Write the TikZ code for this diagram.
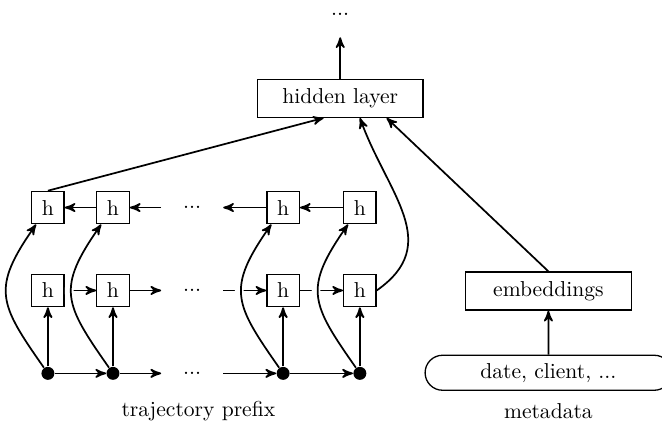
\documentclass[tikz,border=0pt]{standalone}
\usepackage{tikz}
\usetikzlibrary{arrows,shapes,positioning}
\tikzset{
    unit/.style={
           rectangle,
           draw=black, semithick,
           minimum size=15pt,
           inner sep=0pt,
           },
    layer/.style={
           rectangle,
           draw=black, semithick,
           minimum width=2.7cm,
           minimum height=0.62cm,
           },
    feat/.style={
           circle,
           fill=black,
           inner sep=0pt,
           minimum size=6pt,
           },
    ellip/.style={
           inner sep=10pt,
           },
    link/.style={
           ->,
           thick,},
    over/.style={
           link,
           preaction={-, draw=white, line width=4pt, shorten <=6pt, shorten >=6pt},}
}

\begin{document}
\begin{tikzpicture}[->,>=stealth']
\useasboundingbox (0,0) rectangle (10.78,6.94);
% TRAJECTORY PREFIX
% Position of input features (x1 ... x4)
\node[feat] (x1) at (0.78,0.86) {};
\node[feat, right of = x1, node distance = 1.06cm] (x2) {};
\node[ellip, right of = x2, node distance = 1.29cm] (xdots) {...};
\node[feat, right of = xdots, node distance = 1.48cm] (x3) {};
\node[feat, right of = x3, node distance = 1.25cm] (x4) {};
% Position of forward units (f1 ... f4)
\node[unit, above of = x1, node distance = 1.35cm] (f1) {h};
\node[unit, above of = x2, node distance = 1.35cm] (f2) {h};
\node[ellip, above of = xdots, node distance = 1.35cm] (fdots) {...};
\node[unit, above of = x3, node distance = 1.35cm] (f3) {h};
\node[unit, above of = x4, node distance = 1.35cm] (f4) {h};
% Position of backward units (b1 ... b4)
\node[unit, above of = f1, node distance = 1.35cm] (b1) {h};
\node[unit, above of = f2, node distance = 1.35cm] (b2) {h};
\node[ellip, above of = fdots, node distance = 1.35cm] (bdots) {...};
\node[unit, above of = f3, node distance = 1.35cm] (b3) {h};
\node[unit, above of = f4, node distance = 1.35cm] (b4) {h};
\node (trajlabel) at (3.23,0.25) {trajectory prefix};
% HIDDEN LAYER
\node[layer] (hidden) at (5.54,5.34) {hidden layer};
\node[ellip, above of = hidden, node distance = 1.37cm] (out) {...};
% METADATA
\node[layer] (emb) at (8.93,2.20) {embeddings};
\node[rounded rectangle,
draw=black, semithick,
minimum width=4.25cm,
minimum height=0.57cm,
below of = emb,
node distance = 1.33cm] (date) {date, client, ...};
\node[below of = date, node distance = 0.62cm] (metalabel) {metadata};
% Draw lines on graph
\path (f1) edge[link] (f2);
\path (f2) edge[link] (fdots);
\path (fdots) edge[link] (f3);
\path (f3) edge[link] (f4);
\path (x1) edge[over, out=125, in=-125, looseness=1.4] (b1);
\path (x2) edge[over, out=125, in=-125, looseness=1.4] (b2);
\path (x3) edge[over, out=125, in=-125, looseness=1.4] (b3);
\path (x4) edge[over, out=125, in=-125, looseness=1.4] (b4);
\path (x1) edge[link] (x2);
\path (x2) edge[link] (xdots);
\path (xdots) edge[link] (x3);
\path (x3) edge[link] (x4);
\path (x1) edge[link] (f1);
\path (x2) edge[link] (f2);
\path (x3) edge[link] (f3);
\path (x4) edge[link] (f4);
\path (b4) edge[link] (b3);
\path (b3) edge[link] (bdots);
\path (bdots) edge[link] (b2);
\path (b2) edge[link] (b1);
\path (b1.north) edge[link] (hidden.-130);
\path (f4.east) edge[link, out=35, in=-70, looseness=1.2] (hidden.-45);
\path (emb.north) edge[link] (hidden.-23);
\path (date) edge[link] (emb);
\path (hidden) edge[link] (out);
\end{tikzpicture}
\end{document}
